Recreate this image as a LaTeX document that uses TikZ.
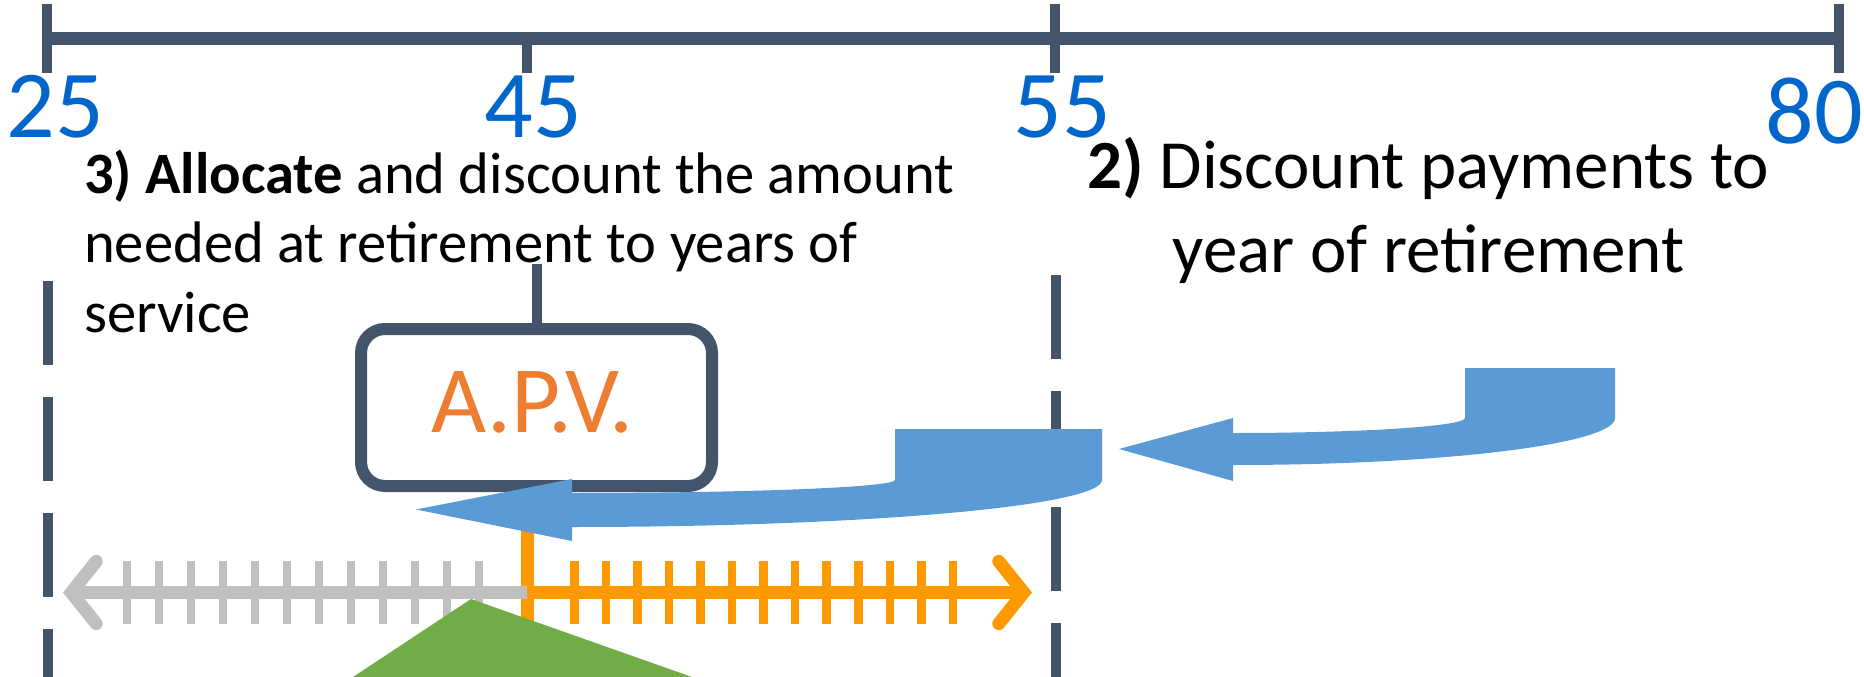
\documentclass[tikz,border=0pt]{standalone}
\usepackage{graphicx}
\usepackage{fontspec}
\setmainfont{Carlito}
\definecolor{slate}{HTML}{44546A}
\definecolor{numblue}{HTML}{0066CC}
\definecolor{arrowblue}{HTML}{5B9BD5}
\definecolor{apvorange}{HTML}{ED7D31}
\definecolor{tlorange}{HTML}{FF9900}
\definecolor{tlgray}{HTML}{BFBFBF}
\definecolor{trigreen}{HTML}{70AD47}
\tikzset{
  axisline/.style={draw=slate, line width=12.7pt},
  axistick/.style={draw=slate, line width=10.7pt},
  num/.style={text=numblue, font=\fontsize{96}{115}\selectfont, inner sep=0pt, anchor=base},
  dashv/.style={draw=slate, line width=10pt, dash pattern=on 84pt off 32pt},
  grayline/.style={draw=tlgray, line width=13pt},
  orangeline/.style={draw=tlorange, line width=13pt},
  graytick/.style={draw=tlgray, line width=8.5pt},
  orangetick/.style={draw=tlorange, line width=8.5pt},
  chevron/.style={line width=13pt, line cap=round, miter limit=10},
  apvbox/.style={draw=slate, line width=12pt, rounded corners=24pt, minimum width=351pt, minimum height=157pt, inner sep=0pt},
  uturn/.style={fill=arrowblue},
}
\begin{document}
\begin{tikzpicture}[x=1pt,y=-1pt]
\useasboundingbox (0,0) rectangle (1864,677);

% dashed verticals
\coordinate (dlA) at (47.5,281);
\coordinate (dlB) at (47.5,677);
\coordinate (drA) at (1055.5,275);
\coordinate (drB) at (1055.5,677);
\draw[dashv] (dlA) -- (dlB);
\draw[dashv] (drA) -- (drB);

% top axis
\coordinate (ax25) at (47,38.7);
\coordinate (ax45) at (527,38.7);
\coordinate (ax55) at (1055,38.7);
\coordinate (ax80) at (1839,38.7);
\draw[axisline] (ax25) -- (ax80);
\draw[axistick] ([yshift=34.7pt]ax25) -- ([yshift=-34.3pt]ax25);
\draw[axistick] (ax45) -- ([yshift=-34.3pt]ax45);
\draw[axistick] ([yshift=34.7pt]ax55) -- ([yshift=-34.3pt]ax55);
\draw[axistick] ([yshift=34.7pt]ax80) -- ([yshift=-34.3pt]ax80);

\node[num] (n25) at (55,137) {25};
\node[num] (n45) at (533.5,137) {45};
\node[num] (n55) at (1062.5,137) {55};
\node[num] (n80) at (1814,143) {80};

% texts
\node[anchor=base west, inner sep=0pt, font=\fontsize{58.6}{69.5}\selectfont] (stepthree) at (84,193)
  {\begin{tabular}[t]{@{}l@{}}\textbf{3) Allocate} and discount the amount\\ needed at retirement to years of\\ service\end{tabular}};
\node[anchor=base, inner sep=0pt, font=\fontsize{69}{84}\selectfont] (steptwo) at (1428.5,188)
  {\begin{tabular}[t]{@{}c@{}}\textbf{2)} Discount payments to\\ year of retirement\end{tabular}};

% APV box
\node[apvbox] (apv) at (536.5,407.5) {};
\node[text=apvorange, font=\fontsize{95}{114}\selectfont, inner sep=0pt] (apvlabel) at (532.5,402.5) {A.P.V.};
\coordinate (apvtop) at (537,264);
\draw[slate, line width=10pt] (apvtop) -- (apvtop |- apv.north);

% orange vertical at 45
\coordinate (ovA) at (527.5,500);
\coordinate (ovB) at (527.5,640);
\draw[orangeline] (ovA) -- (ovB);

% lower timeline, gray part
\foreach \k in {0,...,11} {
  \draw[graytick] ({127+32*\k},561) -- ({127+32*\k},624);
}
\coordinate (gl) at (75,592.5);
\coordinate (mid) at (527,592.5);
\coordinate (orr) at (1020,592.5);
\draw[grayline] (gl) -- (mid);
\draw[chevron, draw=tlgray] (96.2,561.4) -- (71.3,592.5) -- (96.2,623.6);

% orange part
\foreach \k in {0,...,12} {
  \draw[orangetick] ({574.3+31.55*\k},561) -- ({574.3+31.55*\k},624);
}
\draw[orangeline] (mid) -- (orr);
\draw[chevron, draw=tlorange] (998.8,561.4) -- (1023.7,592.5) -- (998.8,623.6);

% blue u-turn arrows
\fill[uturn] (416,509.5) -- (572,479) -- (572,493)
  arc[start angle=90, end angle=0, x radius=323, y radius=13]
  -- (895,429) -- (1102,429) -- (1102,480)
  arc[start angle=0, end angle=90, x radius=530, y radius=47]
  -- (572,541) -- cycle;
\fill[uturn] (1119,449) -- (1233,418) -- (1233,433)
  arc[start angle=90, end angle=0, x radius=232, y radius=15]
  -- (1465,368) -- (1615,368) -- (1615,418)
  arc[start angle=0, end angle=90, x radius=382, y radius=47]
  -- (1233,481) -- cycle;

% green triangle
\fill[trigreen] (471,599) -- (692,677) -- (353,677) -- cycle;
\end{tikzpicture}
\end{document}
